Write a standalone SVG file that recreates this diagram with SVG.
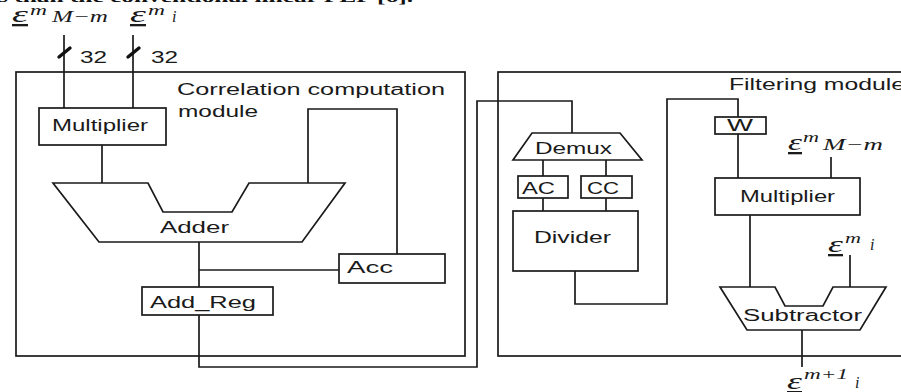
<svg xmlns="http://www.w3.org/2000/svg" width="901" height="392" viewBox="0 0 901 392">
<style>
.ln{fill:none;stroke:#1a1a1a;stroke-width:1.7}
.bx{fill:#fff;stroke:#1a1a1a;stroke-width:1.7}
.t{font-family:"Liberation Sans",Arial,sans-serif;font-size:16px;fill:#1a1a1a}
.e{font-family:"Liberation Serif","Times New Roman",serif;font-style:italic;fill:#1a1a1a}
.sl{stroke:#111;stroke-width:3.4;stroke-linecap:round}
</style>
<rect width="901" height="392" fill="#fff"/>
<text x="-2" y="2" font-family="'Liberation Serif',serif" font-weight="bold" font-size="15" fill="#111" textLength="415" lengthAdjust="spacingAndGlyphs">s than the conventional linear PEF [6].</text>

<g id="correlation-module">
<rect class="ln" x="16" y="72" width="449" height="284"/>
<text class="t" x="177" y="95" textLength="268" lengthAdjust="spacingAndGlyphs">Correlation computation</text>
<text class="t" x="178" y="117" textLength="80" lengthAdjust="spacingAndGlyphs">module</text>
</g>
<g id="filtering-module">
<rect class="ln" x="498" y="72" width="420" height="284"/>
<text class="t" x="729" y="90" textLength="176" lengthAdjust="spacingAndGlyphs">Filtering module</text>
</g>

<g id="connectors">
<line class="ln" x1="64" y1="35" x2="64" y2="108"/>
<line class="ln" x1="133" y1="35" x2="133" y2="108"/>
<line class="sl" x1="59" y1="57" x2="70" y2="48"/>
<line class="sl" x1="128" y1="57" x2="139" y2="48"/>
<line class="ln" x1="102" y1="145" x2="102" y2="183"/>
<polyline class="ln" points="308,183 308,109 397,109 397,254"/>
<line class="ln" x1="199" y1="242" x2="199" y2="287"/>
<line class="ln" x1="199" y1="270" x2="339" y2="270"/>
<polyline class="ln" points="199,315 199,367 477,367 477,101 572,101 572,133"/>
<line class="ln" x1="543" y1="160" x2="543" y2="176"/>
<line class="ln" x1="543" y1="198" x2="543" y2="211"/>
<line class="ln" x1="606" y1="160" x2="606" y2="176"/>
<line class="ln" x1="606" y1="198" x2="606" y2="211"/>
<polyline class="ln" points="575,271 575,304 667,304 667,99 738,99 738,117"/>
<line class="ln" x1="738" y1="134" x2="738" y2="178"/>
<line class="ln" x1="831" y1="157" x2="831" y2="178"/>
<line class="ln" x1="750" y1="215" x2="750" y2="287"/>
<line class="ln" x1="850" y1="255" x2="850" y2="287"/>
<line class="ln" x1="802" y1="330" x2="802" y2="367"/>
</g>

<g id="label-eps-Mm-top">
<text class="e" x="12" y="22" font-size="23" textLength="16" lengthAdjust="spacingAndGlyphs" text-decoration="underline">ε</text>
<text class="e" x="30" y="15" font-size="15" textLength="17" lengthAdjust="spacingAndGlyphs">m</text>
<text class="e" x="52" y="22" font-size="16" textLength="56" lengthAdjust="spacingAndGlyphs">M−m</text>
</g>
<g id="label-eps-i-top">
<text class="e" x="130" y="22" font-size="23" textLength="16" lengthAdjust="spacingAndGlyphs" text-decoration="underline">ε</text>
<text class="e" x="148" y="15" font-size="15" textLength="17" lengthAdjust="spacingAndGlyphs">m</text>
<text class="e" x="172" y="22" font-size="16">i</text>
</g>
<g id="label-32a"><text class="t" x="80" y="63" font-size="18" textLength="27" lengthAdjust="spacingAndGlyphs">32</text></g>
<g id="label-32b"><text class="t" x="151" y="63" font-size="18" textLength="27" lengthAdjust="spacingAndGlyphs">32</text></g>

<g id="multiplier-left">
<rect class="bx" x="39" y="108" width="127" height="37"/>
<text class="t" x="52" y="131" textLength="96" lengthAdjust="spacingAndGlyphs">Multiplier</text>
</g>
<g id="adder">
<polygon class="bx" points="53,183 148,183 163,212 232,212 249,183 345,183 302,242 99,242"/>
<text class="t" x="160" y="233" textLength="69" lengthAdjust="spacingAndGlyphs">Adder</text>
</g>
<g id="acc">
<rect class="bx" x="339" y="254" width="106" height="29"/>
<text class="t" x="347" y="273" textLength="46" lengthAdjust="spacingAndGlyphs">Acc</text>
</g>
<g id="add-reg">
<rect class="bx" x="142" y="287" width="131" height="28"/>
<text class="t" x="150" y="308" textLength="106" lengthAdjust="spacingAndGlyphs">Add_Reg</text>
</g>

<g id="demux">
<polygon class="bx" points="532,133 620,133 642,160 513,160"/>
<text class="t" x="535" y="154" textLength="77" lengthAdjust="spacingAndGlyphs">Demux</text>
</g>
<g id="ac">
<rect class="bx" x="518" y="176" width="50" height="22"/>
<text class="t" x="522" y="194" textLength="33" lengthAdjust="spacingAndGlyphs">AC</text>
</g>
<g id="cc">
<rect class="bx" x="581" y="176" width="51" height="22"/>
<text class="t" x="587" y="194" textLength="32" lengthAdjust="spacingAndGlyphs">CC</text>
</g>
<g id="divider">
<rect class="bx" x="513" y="211" width="125" height="60"/>
<text class="t" x="534" y="243" textLength="77" lengthAdjust="spacingAndGlyphs">Divider</text>
</g>
<g id="w">
<rect class="bx" x="715" y="117" width="51" height="17"/>
<text class="t" x="727" y="131" font-size="14" textLength="26" lengthAdjust="spacingAndGlyphs">W</text>
</g>
<g id="multiplier-right">
<rect class="bx" x="715" y="178" width="145" height="37"/>
<text class="t" x="740" y="202" textLength="95" lengthAdjust="spacingAndGlyphs">Multiplier</text>
</g>
<g id="subtractor">
<polygon class="bx" points="720,287 775,287 785,306 823,306 833,287 886,287 860,330 747,330"/>
<text class="t" x="743" y="321" textLength="119" lengthAdjust="spacingAndGlyphs">Subtractor</text>
</g>

<g id="label-eps-Mm-right">
<text class="e" x="788" y="150" font-size="23" textLength="14" lengthAdjust="spacingAndGlyphs" text-decoration="underline">ε</text>
<text class="e" x="803" y="142" font-size="15" textLength="16" lengthAdjust="spacingAndGlyphs">m</text>
<text class="e" x="823" y="150" font-size="16" textLength="60" lengthAdjust="spacingAndGlyphs">M−m</text>
</g>
<g id="label-eps-i-right">
<text class="e" x="828" y="252" font-size="23" textLength="15" lengthAdjust="spacingAndGlyphs" text-decoration="underline">ε</text>
<text class="e" x="845" y="243" font-size="15" textLength="16" lengthAdjust="spacingAndGlyphs">m</text>
<text class="e" x="870" y="250" font-size="16">i</text>
</g>
<g id="label-eps-out">
<text class="e" x="787" y="389" font-size="23" textLength="15" lengthAdjust="spacingAndGlyphs" text-decoration="underline">ε</text>
<text class="e" x="804" y="379" font-size="15" textLength="44" lengthAdjust="spacingAndGlyphs">m+1</text>
<text class="e" x="855" y="388" font-size="16">i</text>
</g>
</svg>
